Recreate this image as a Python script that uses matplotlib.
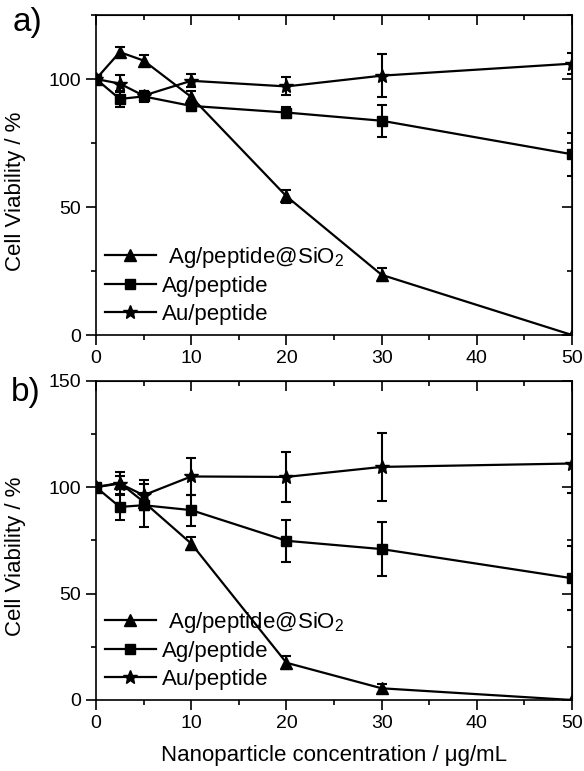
import matplotlib
matplotlib.use("Agg")
import matplotlib.pyplot as plt
from matplotlib.ticker import MultipleLocator
from matplotlib.lines import Line2D

plt.rcParams['font.family'] = ['Liberation Sans', 'DejaVu Sans']
plt.rcParams['mathtext.fontset'] = 'custom'
plt.rcParams['mathtext.rm'] = 'Liberation Sans'

conc = [0, 2.5, 5, 10, 20, 30, 50]

# Panel a
a_sio2 = [100, 110.5, 107.2, 93.0, 54.2, 23.5, 0]
a_sio2_err = [0, 2, 2, 2.5, 2.5, 2.5, 0]
a_ag = [100, 92.2, 93.2, 89.5, 86.9, 83.7, 70.6]
a_ag_err = [0, 3, 2, 2, 2, 6.2, 8.5]
a_au = [100, 98.2, 93.5, 99.3, 97.1, 101.3, 106.0]
a_au_err = [0, 3.3, 2, 2.5, 3.5, 8.4, 4]

# Panel b
b_sio2 = [100, 102.0, 93.1, 73.5, 17.5, 5.5, 0]
b_sio2_err = [0, 3, 4, 3, 3, 2, 0]
b_ag = [100, 90.7, 91.5, 89.2, 74.8, 70.9, 57.2]
b_ag_err = [0, 6, 10, 7.3, 9.8, 12.5, 15]
b_au = [100, 101.7, 96.2, 105.0, 104.8, 109.5, 111.1]
b_au_err = [0, 5.5, 7, 8.5, 11.6, 16, 14]

labels = [r' Ag/peptide@SiO$\mathregular{_2}$', 'Ag/peptide', 'Au/peptide']
markers = ['^', 's', '*']
msizes = [8, 7, 10]

fig = plt.figure(figsize=(5.84, 7.71), dpi=100)
axa = fig.add_axes([96/584, 1-335/771, 476/584, 320/771])
axb = fig.add_axes([96/584, 1-700/771, 476/584, 319.3/771])

def draw(ax, s, se, g, ge, u, ue, ymax):
    kw = dict(color='black', lw=1.6, elinewidth=1.5, capsize=3.5, capthick=1.5)
    for vals, errs, m, ms in zip([s, g, u], [se, ge, ue], markers, msizes):
        ax.errorbar(conc, vals, yerr=errs, marker=m, ms=ms, **kw)
    ax.set_xlim(0, 50)
    ax.set_ylim(0, ymax)
    ax.set_xticks([0, 10, 20, 30, 40, 50])
    ax.set_yticks(list(range(0, int(ymax) + 1, 50)))
    ax.xaxis.set_minor_locator(MultipleLocator(5))
    ax.yaxis.set_minor_locator(MultipleLocator(25))
    ax.tick_params(which='major', direction='out', length=7.2, width=1.2, labelsize=14, pad=3.5)
    ax.tick_params(which='minor', direction='out', length=3.6, width=1.2)
    for sp in ax.spines.values():
        sp.set_linewidth(1.2)
    sx = ax.secondary_xaxis('top')
    sx.set_xticks([0, 10, 20, 30, 40, 50])
    sx.xaxis.set_minor_locator(MultipleLocator(5))
    sx.tick_params(which='major', direction='in', length=7.2, width=1.2, labeltop=False)
    sx.tick_params(which='minor', direction='in', length=3.6, width=1.2)
    sy = ax.secondary_yaxis('right')
    sy.set_yticks(list(range(0, int(ymax) + 1, 50)))
    sy.yaxis.set_minor_locator(MultipleLocator(25))
    sy.tick_params(which='major', direction='in', length=7.2, width=1.2, labelright=False)
    sy.tick_params(which='minor', direction='in', length=3.6, width=1.2)
    ax.set_ylabel('Cell Viability / %', fontsize=16)
    ax.yaxis.set_label_coords(-0.147, 0.45)
    handles = [Line2D([], [], color='black', lw=1.6, marker=m, ms=ms)
               for m, ms in zip(markers, msizes)]
    ax.legend(handles, labels, loc='lower left', bbox_to_anchor=(-0.01, -0.01),
              frameon=False, fontsize=16, handlelength=2.3, handletextpad=0.3,
              labelspacing=0.3, borderaxespad=0.2)

draw(axa, a_sio2, a_sio2_err, a_ag, a_ag_err, a_au, a_au_err, 125)
draw(axb, b_sio2, b_sio2_err, b_ag, b_ag_err, b_au, b_au_err, 150)

axb.set_xlabel('Nanoparticle concentration / μg/mL', fontsize=16)
axb.xaxis.set_label_coords(0.5, -0.14)

fig.text(13/584, 1-22/771, 'a)', fontsize=24, va='center', ha='left')
fig.text(11/584, 1-392/771, 'b)', fontsize=24, va='center', ha='left')

fig.savefig('out.png', dpi=100)
